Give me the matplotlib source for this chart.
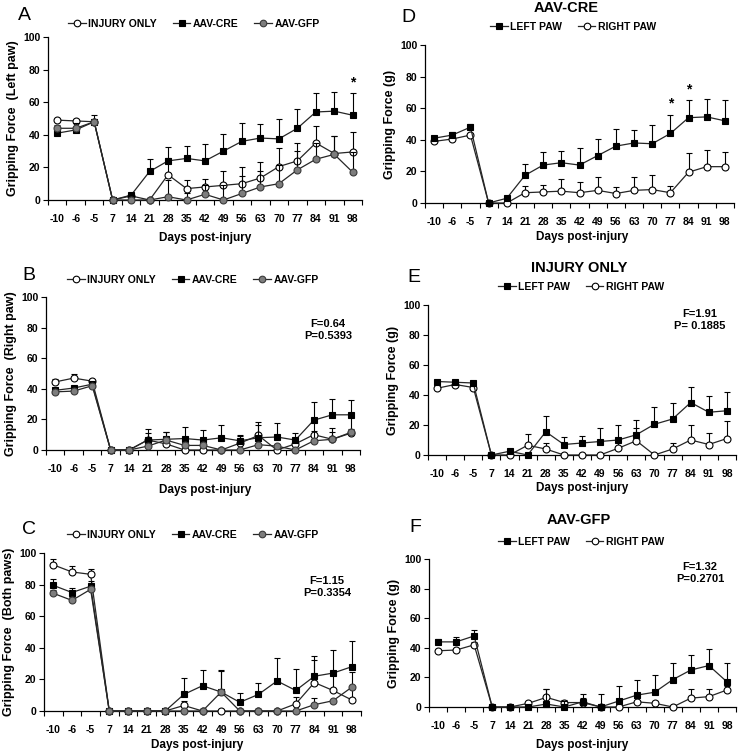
import numpy as np
import matplotlib
matplotlib.use("Agg")
from matplotlib import pyplot as plt
from matplotlib.ticker import FixedLocator

plt.rcParams.update({
    "font.family": ["Liberation Sans", "DejaVu Sans"],
    "font.weight": "bold",
    "axes.linewidth": 0.9,
})

# ------------------------------------------------------------------
# data
days = ["-10", "-6", "-5", "7", "14", "21", "28", "35", "42", "49",
        "56", "63", "70", "77", "84", "91", "98"]

# left paw
cre_left = [41, 43, 48, 0, 3, 17.5, 24, 25.5, 24, 30, 36, 38, 37.5, 44, 54, 54.5, 52]
cre_left_err = [1.5, 2, 2, 0, 1, 7.5, 8.5, 7.5, 10.5, 10.5, 11, 8.5, 12, 12, 11.5, 11.5, 13.5]
inj_left = [49, 48.5, 48, 0, 2.5, 0, 15.5, 7, 8, 9, 10, 13.5, 20.5, 24, 35, 28.5, 29.5]
inj_left_err = [1, 1, 1, 0, 0.5, 0, 10.5, 5, 5, 9, 10, 10, 11.5, 11, 10.5, 11, 12.5]
gfp_left = [44, 44, 48, 0, 0, 0, 2, 0, 3.5, 0, 4, 8, 10, 18.5, 25, 28, 17]
gfp_left_err = [2, 3.5, 4, 0, 0, 0, 10.5, 4, 5.5, 9, 10.5, 10, 11.5, 11.5, 10, 11, 12.5]

# right paw
cre_right = [39, 40.5, 43, 0, 0, 6.5, 7, 7.5, 6.5, 8, 6, 8, 8.5, 6.5, 19.5, 23, 23]
cre_right_err = [1, 1, 1, 0, 0, 4.5, 4.5, 7.5, 6.5, 8.5, 4, 8.5, 9, 4.5, 12, 10.5, 9.5]
inj_right = [44.5, 47, 45, 0, 0, 6.5, 4, 0, 0, 0, 4.5, 9.5, 0, 4, 10, 7, 11]
inj_right_err = [2, 2.5, 1, 0, 0, 7.5, 4, 0, 0, 0, 4.5, 8.5, 0, 4, 10, 7.5, 11.5]
gfp_right = [38, 38.5, 42, 0, 0, 2.5, 6.5, 3, 3, 0, 0, 3.5, 2.5, 0, 6, 7, 11.5]
gfp_right_err = [1.5, 1.5, 2, 0, 0, 1, 5.5, 1.5, 3, 0, 0, 2.5, 1.5, 0, 6.5, 5, 2.5]

# both paws
inj_both = [92.5, 88, 86.5, 0, 0, 0, 0, 3.5, 0, 0, 0, 0, 0, 4.5, 18, 13, 7]
inj_both_err = [3.5, 3.5, 3.5, 0, 0, 0, 0, 3, 0, 0, 0, 0, 0, 4.5, 14, 12, 7]
cre_both = [79.5, 75, 79, 0, 0, 0, 0, 10.5, 16, 12, 5.5, 10.5, 19, 13, 22, 24, 28]
cre_both_err = [4, 3, 3, 0, 0, 0, 0, 10.5, 10, 14, 6, 7.5, 14.5, 13.5, 13, 14.5, 16]
gfp_both = [74.5, 70, 77, 0, 0, 0, 0, 0, 0, 12, 0, 0, 0, 0, 4, 6.5, 15]
gfp_both_err = [2, 2, 2, 0, 0, 0, 0, 0, 0, 13.5, 0, 0, 0, 0, 4, 0, 10]

stats_B = "F=0.64\nP=0.5393"
stats_C = "F=1.15\nP=0.3354"
stats_E = "F=1.91\nP= 0.1885"
stats_F = "F=1.32\nP=0.2701"
# ------------------------------------------------------------------

W, H = 744, 753
fig = plt.figure(figsize=(W / 100, H / 100), dpi=100)

x = np.arange(len(days))

styles = {
    "inj": dict(marker="o", mfc="white", mec="black", ms=5, mew=0.8),
    "cre": dict(marker="s", mfc="black", mec="black", ms=4, mew=0.8),
    "gfp": dict(marker="o", mfc="#7d7d7d", mec="#3a3a3a", ms=5, mew=0.8),
}
labels3 = {"inj": "INJURY ONLY", "cre": "AAV-CRE", "gfp": "AAV-GFP"}


def add_axes_px(x0, x1, ytop, ybot):
    return fig.add_axes([x0 / W, 1 - ybot / H, (x1 - x0) / W, (ybot - ytop) / H])


def series(ax, vals, errs, kind, label, z):
    vals = np.array(vals, dtype=float)
    errs = np.array(errs, dtype=float)
    ax.errorbar(x, vals, yerr=[np.zeros_like(errs), errs], fmt="none",
                ecolor="black", elinewidth=0.8, capsize=2.2, capthick=0.8,
                zorder=z)
    line, = ax.plot(x, vals, color="#262626", lw=0.9, label=label,
                    zorder=z + 0.5, clip_on=False, **styles[kind])
    return line


def style_axes(ax, ylabel):
    ax.set_xlim(-0.5, len(days) - 0.5)
    ax.set_ylim(0, 100)
    ax.set_yticks([0, 20, 40, 60, 80, 100])
    ax.set_xticks(x)
    ax.set_xticklabels(days)
    ax.xaxis.set_minor_locator(FixedLocator(np.arange(-0.5, len(days), 1.0)))
    ax.tick_params(axis="x", which="major", length=0, pad=10, labelsize=7.5)
    ax.tick_params(axis="x", which="minor", length=3.5, width=0.8, direction="out")
    ax.tick_params(axis="y", length=3.5, width=0.8, direction="out", labelsize=7.5, pad=2)
    for t in ax.get_xticklabels() + ax.get_yticklabels():
        t.set_fontweight("bold")
    ax.spines["top"].set_visible(False)
    ax.spines["right"].set_visible(False)
    ax.set_ylabel(ylabel, fontsize=9, fontweight="bold")


def legend(ax, handles, cx, cy):
    ax.legend(handles=handles, loc="center", bbox_to_anchor=(cx / W, 1 - cy / H),
              bbox_transform=fig.transFigure, ncol=len(handles), frameon=False,
              handlelength=1.7, handletextpad=0.25, columnspacing=1.5,
              markerscale=0.95, prop={"weight": "bold", "size": 7.5})


def panel_letter(txt, px, py):
    fig.text(px / W, 1 - py / H, txt, fontsize=14, fontweight="normal",
             ha="center", va="center")


def xlabel(px, py):
    fig.text(px / W, 1 - py / H, "Days post-injury", fontsize=8.5,
             fontweight="bold", ha="center", va="center")


def stats(txt, px, py):
    fig.text(px / W, 1 - py / H, txt, fontsize=8, fontweight="bold",
             ha="center", va="center", linespacing=1.2)


def title(txt, px, py):
    fig.text(px / W, 1 - py / H, txt, fontsize=10.5, fontweight="bold",
             ha="center", va="center")


# ---- Panel A
axA = add_axes_px(48, 362, 37, 200)
hA = [series(axA, inj_left, inj_left_err, "inj", labels3["inj"], 3),
      series(axA, cre_left, cre_left_err, "cre", labels3["cre"], 4),
      series(axA, gfp_left, gfp_left_err, "gfp", labels3["gfp"], 5)]
style_axes(axA, "Gripping Force  (Left paw)")
legend(axA, hA, 194, 24)
axA.text(16, 72, "*", ha="center", va="center", fontsize=10, fontweight="bold")
panel_letter("A", 24, 15)
xlabel(205, 238)

# ---- Panel B
axB = add_axes_px(46, 360, 297, 450)
hB = [series(axB, inj_right, inj_right_err, "inj", labels3["inj"], 3),
      series(axB, cre_right, cre_right_err, "cre", labels3["cre"], 4),
      series(axB, gfp_right, gfp_right_err, "gfp", labels3["gfp"], 5)]
style_axes(axB, "Gripping Force  (Right paw)")
legend(axB, hB, 193, 280)
stats(stats_B, 328, 330)
panel_letter("B", 29, 275)
xlabel(205, 490)

# ---- Panel C
axC = add_axes_px(44, 361, 553, 711)
hC = [series(axC, inj_both, inj_both_err, "inj", labels3["inj"], 3),
      series(axC, cre_both, cre_both_err, "cre", labels3["cre"], 4),
      series(axC, gfp_both, gfp_both_err, "gfp", labels3["gfp"], 5)]
style_axes(axC, "Gripping Force  (Both paws)")
legend(axC, hC, 193, 535)
stats(stats_C, 327, 587)
panel_letter("C", 29, 530)
xlabel(197, 745)

# ---- Panel D
axD = add_axes_px(425, 734, 45, 203)
hD = [series(axD, cre_left, cre_left_err, "cre", "LEFT PAW", 4),
      series(axD, cre_right, cre_right_err, "inj", "RIGHT PAW", 3)]
style_axes(axD, "Gripping Force (g)")
legend(axD, hD, 573, 27)
axD.text(13, 63, "*", ha="center", va="center", fontsize=10, fontweight="bold")
axD.text(14, 72, "*", ha="center", va="center", fontsize=10, fontweight="bold")
title("AAV-CRE", 566, 8)
panel_letter("D", 408, 18)
xlabel(582, 237)

# ---- Panel E
axE = add_axes_px(428, 736, 305, 455)
hE = [series(axE, inj_left, inj_left_err, "cre", "LEFT PAW", 4),
      series(axE, inj_right, inj_right_err, "inj", "RIGHT PAW", 3)]
style_axes(axE, "Gripping Force (g)")
legend(axE, hE, 581, 287)
stats(stats_E, 700, 320)
title("INJURY ONLY", 579, 268)
panel_letter("E", 414, 277)
xlabel(582, 488)

# ---- Panel F
axF = add_axes_px(429, 736, 559, 707)
hF = [series(axF, gfp_left, gfp_left_err, "cre", "LEFT PAW", 4),
      series(axF, gfp_right, gfp_right_err, "inj", "RIGHT PAW", 3)]
style_axes(axF, "Gripping Force (g)")
legend(axF, hF, 581, 542)
stats(stats_F, 700, 573)
title("AAV-GFP", 579, 520)
panel_letter("F", 415, 527)
xlabel(582, 745)

# y labels placed at a fixed distance left of each axis
for ax in (axA, axB, axC):
    ax.yaxis.set_label_coords(-0.092, 0.5)
for ax in (axD, axE, axF):
    ax.yaxis.set_label_coords(-0.094, 0.5)

fig.savefig("out.png", dpi=100)
